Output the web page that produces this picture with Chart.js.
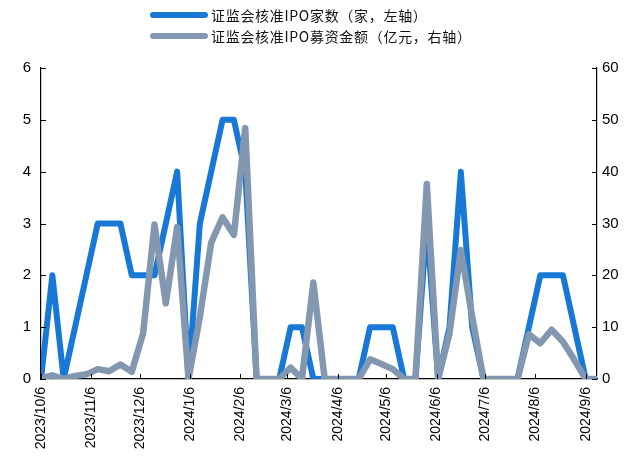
<!DOCTYPE html>
<html>
<head>
<meta charset="utf-8">
<script src="https://cdn.jsdelivr.net/npm/chart.js@4/dist/chart.umd.min.js"></script>
<style>
  body { margin: 0; background: #fff; }
  #wrap { position: relative; width: 632px; height: 456px; }
  .legend { position: absolute; left: 150px; display: flex; align-items: center;
            font: 14px "Noto Sans CJK SC", sans-serif; letter-spacing: 0.7px; color: #111; white-space: nowrap; }
  .swatch { width: 58px; height: 6px; border-radius: 3px; margin-right: 3px; }
</style>
</head>
<body>
<div id="wrap">
  <canvas id="chart" width="632" height="456"></canvas>
  <div class="legend" style="top:5px"><span class="swatch" style="background:#1878d6"></span>证监会核准IPO家数（家，左轴）</div>
  <div class="legend" style="top:26px"><span class="swatch" style="background:#8497b0"></span>证监会核准IPO募资金额（亿元，右轴）</div>
</div>
<script>
// weekly (Friday) observations
const weeks = [
  '2023-10-06','2023-10-13','2023-10-20','2023-10-27','2023-11-03','2023-11-10','2023-11-17','2023-11-24',
  '2023-12-01','2023-12-08','2023-12-15','2023-12-22','2023-12-29','2024-01-05','2024-01-12','2024-01-19',
  '2024-01-26','2024-02-02','2024-02-09','2024-02-16','2024-02-23','2024-03-01','2024-03-08','2024-03-15',
  '2024-03-22','2024-03-29','2024-04-05','2024-04-12','2024-04-19','2024-04-26','2024-05-03','2024-05-10',
  '2024-05-17','2024-05-24','2024-05-31','2024-06-07','2024-06-14','2024-06-21','2024-06-28','2024-07-05',
  '2024-07-12','2024-07-19','2024-07-26','2024-08-02','2024-08-09','2024-08-16','2024-08-23','2024-08-30',
  '2024-09-06','2024-09-13'
];
// approved IPOs (count, left axis)
const ipoCount = [
  0, 2, 0, 1, 2, 3, 3, 3, 2, 2, 2, 3, 4, 0, 3, 4, 5, 5, 4, 0,
  0, 0, 1, 1, 0, 0, 0, 0, 0, 1, 1, 1, 0, 0, 3, 0, 1, 4, 1, 0,
  0, 0, 0, 1, 2, 2, 2, 1, 0, 0
];
// approved fundraising (100m yuan, right axis)
const ipoAmount = [
  0.2, 0.7, 0, 0.6, 0.9, 1.9, 1.5, 2.8, 1.4, 8.8, 29.8, 14.6, 29.3, 0, 12, 26.3, 31.2, 27.8, 48.4, 0,
  0, 0, 2.2, 0, 18.6, 0, 0, 0, 0, 3.8, 2.9, 1.9, 0, 0, 37.6, 0, 8.8, 24.9, 12, 0,
  0, 0, 0, 8.6, 6.9, 9.5, 7.2, 3.7, 0, 0
];
const tickDates = ['2023/10/6','2023/11/6','2023/12/6','2024/1/6','2024/2/6','2024/3/6',
                   '2024/4/6','2024/5/6','2024/6/6','2024/7/6','2024/8/6','2024/9/6'];

const DAY = 86400000;
const origin = Date.UTC(2023, 9, 6);
function dayOf(str) {
  const p = str.split(/[-\/]/).map(Number);
  return Math.round((Date.UTC(p[0], p[1] - 1, p[2]) - origin) / DAY);
}
const weekDays = weeks.map(dayOf);
const tickDays = tickDates.map(dayOf);

// short tick marks drawn inside the plot area
const innerTicks = {
  id: 'innerTicks',
  afterDraw(chart) {
    const { ctx, chartArea, scales } = chart;
    const len = 5;
    ctx.save();
    ctx.strokeStyle = '#000';
    ctx.lineWidth = 1;
    ctx.beginPath();
    scales.x.ticks.forEach(t => {
      const px = Math.round(scales.x.getPixelForValue(t.value)) + 0.5;
      ctx.moveTo(px, chartArea.bottom);
      ctx.lineTo(px, chartArea.bottom - len);
    });
    scales.y.ticks.forEach(t => {
      const py = Math.round(scales.y.getPixelForValue(t.value)) + 0.5;
      ctx.moveTo(chartArea.left, py);
      ctx.lineTo(chartArea.left + len, py);
    });
    scales.y1.ticks.forEach(t => {
      const py = Math.round(scales.y1.getPixelForValue(t.value)) + 0.5;
      ctx.moveTo(chartArea.right, py);
      ctx.lineTo(chartArea.right - len, py);
    });
    ctx.stroke();
    ctx.restore();
  }
};

const tickFont = { family: '"Liberation Sans", Arial, sans-serif', size: 15 };

new Chart(document.getElementById('chart'), {
  type: 'line',
  data: {
    datasets: [
      {
        label: '证监会核准IPO家数（家，左轴）',
        data: ipoCount.map((v, i) => ({ x: weekDays[i], y: v })),
        borderColor: '#1878d6',
        borderWidth: 6,
        yAxisID: 'y',
        order: 2
      },
      {
        label: '证监会核准IPO募资金额（亿元，右轴）',
        data: ipoAmount.map((v, i) => ({ x: weekDays[i], y: v })),
        borderColor: '#8497b0',
        borderWidth: 6.5,
        yAxisID: 'y1',
        order: 1
      }
    ]
  },
  options: {
    responsive: false,
    animation: false,
    layout: { padding: { top: 68, left: 0, right: 0, bottom: 0 } },
    elements: {
      point: { radius: 0 },
      line: { tension: 0, borderJoinStyle: 'round', borderCapStyle: 'round' }
    },
    plugins: { legend: { display: false }, tooltip: { enabled: false } },
    scales: {
      x: {
        type: 'linear',
        min: 0,
        max: weekDays[weekDays.length - 1],
        afterBuildTicks(scale) { scale.ticks = tickDays.map(v => ({ value: v })); },
        afterFit(scale) { scale.height = 77; },
        grid: { display: false, drawTicks: false },
        border: { color: '#000', width: 1.2 },
        ticks: {
          autoSkip: false,
          minRotation: 90,
          maxRotation: 90,
          padding: 8,
          color: '#000',
          font: { family: '"Liberation Sans", Arial, sans-serif', size: 14 },
          callback: v => tickLabelFor(v)
        }
      },
      y: {
        position: 'left',
        min: 0,
        max: 6,
        afterFit(scale) { scale.width = 41; },
        grid: { display: false, drawTicks: false },
        border: { color: '#000', width: 1.2 },
        ticks: { stepSize: 1, padding: 10, color: '#000', font: tickFont }
      },
      y1: {
        position: 'right',
        min: 0,
        max: 60,
        afterFit(scale) { scale.width = 35; },
        grid: { display: false, drawTicks: false },
        border: { color: '#000', width: 1.2 },
        ticks: { stepSize: 10, padding: 5, color: '#000', font: tickFont }
      }
    }
  },
  plugins: [innerTicks]
});

function tickLabelFor(v) {
  const i = tickDays.indexOf(v);
  return i >= 0 ? tickDates[i] : '';
}
</script>
</body>
</html>
